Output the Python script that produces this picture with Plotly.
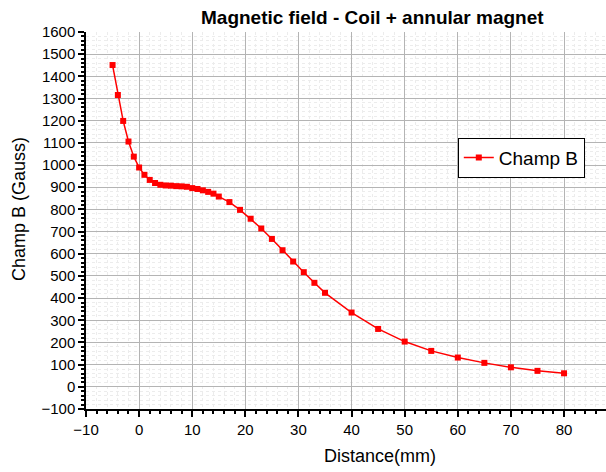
import plotly.graph_objects as go

distance_mm = [-5, -4, -3, -2, -1, 0, 1, 2, 3, 4, 5, 6, 7, 8, 9, 10, 11, 12, 13, 14, 15,
               17, 19, 21, 23, 25, 27, 29, 31, 33, 35, 40, 45, 50, 55, 60, 65, 70, 75, 80]
champ_b = [1451, 1316, 1199, 1106, 1038, 989, 956, 933, 919, 911, 908, 907, 905, 904, 902,
           896, 892, 886, 879, 871, 858, 833, 798, 758, 714, 667, 616, 565, 517, 469, 424,
           335, 261, 204, 162, 132, 108, 88, 72, 61]

FONT = "Liberation Sans, Arial, sans-serif"

fig = go.Figure()
fig.add_trace(go.Scatter(
    x=distance_mm, y=champ_b, mode="lines+markers", name="Champ B",
    line=dict(color="#ff0000", width=1.5),
    marker=dict(symbol="square", size=6, color="#ff0000"),
))

axis_common = dict(
    showline=True, linecolor="black", linewidth=1.5,
    ticks="outside", ticklen=6, tickwidth=1.5, tickcolor="black",
    showgrid=True, gridcolor="#b4b4b4", gridwidth=1,
    zeroline=False,
    tickfont=dict(family=FONT, size=15, color="black"),
)

fig.update_xaxes(
    range=[-10, 87.9], dtick=10, tick0=0,
    minor=dict(dtick=2, ticks="outside", ticklen=3, tickcolor="black",
               showgrid=True, gridcolor="#ececec", griddash="dot"),
    **axis_common,
)
fig.update_yaxes(
    range=[-100, 1600], dtick=100, tick0=0,
    minor=dict(dtick=20, ticks="outside", ticklen=3, tickcolor="black",
               showgrid=True, gridcolor="#ececec", griddash="dot"),
    **axis_common,
)

fig.update_layout(
    width=606, height=472,
    margin=dict(l=86, r=0, t=32, b=63),
    paper_bgcolor="white", plot_bgcolor="white",
    font=dict(family=FONT, color="black"),
    showlegend=True,
    legend=dict(x=0.715, y=0.72, xanchor="left", yanchor="top",
                bordercolor="black", borderwidth=1, bgcolor="white",
                font=dict(family=FONT, size=19, color="black")),
    annotations=[
        dict(text="<b>Magnetic field - Coil + annular magnet</b>", xref="paper", yref="paper",
             x=(372 - 86) / 520, y=1, yshift=15, xanchor="center", yanchor="middle",
             showarrow=False, font=dict(family=FONT, size=19, color="black")),
        dict(text="Distance(mm)", xref="paper", yref="paper",
             x=(380 - 86) / 520, y=0, yshift=-47, xanchor="center", yanchor="middle",
             showarrow=False, font=dict(family=FONT, size=18, color="black")),
        dict(text="Champ B (Gauss)", xref="paper", yref="paper", textangle=-90,
             x=0, xshift=-67, y=(409 - 209) / 377, xanchor="center", yanchor="middle",
             showarrow=False, font=dict(family=FONT, size=18, color="black")),
    ],
)

fig.write_html("out.html")
